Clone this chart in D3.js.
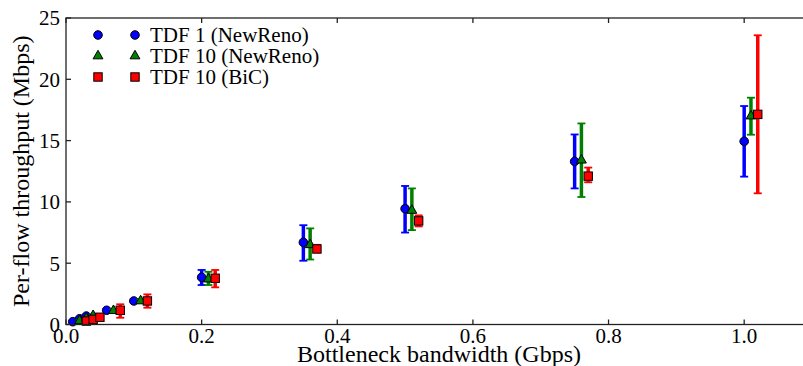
<!DOCTYPE html>
<html lang="en">
<head>
<meta charset="UTF-8" />
<title>Per-flow throughput vs bottleneck bandwidth</title>
<script src="https://d3js.org/d3.v7.min.js"></script>
<style>
body { margin: 0; padding: 0; background: #fff; }
svg { display: block; }
svg text { font-family: "Liberation Serif", "Times New Roman", Times, "Nimbus Roman", "DejaVu Serif", "Noto Serif", FreeSerif, serif; fill: #000; }
.tick-label { font-size: 21px; }
.axis-title { font-size: 24px; }
.legend-text { font-size: 21px; }
</style>
</head>
<body>
<svg width="803" height="366"></svg>
<script>
// bottleneck bandwidth (Gbps) for TDF 1; the other series are shifted by 0.01
const bandwidth = [0.01, 0.02, 0.03, 0.06, 0.1, 0.2, 0.35, 0.5, 0.75, 1.0];

const tdf1Mean = [0.23, 0.47, 0.69, 1.16, 1.92, 3.85, 6.7, 9.45, 13.3, 14.94];
const tdf1Low  = [0.15, 0.4, 0.6, 1.05, 1.8, 3.22, 5.2, 7.5, 11.1, 12.06];
const tdf1High = [0.3, 0.55, 0.78, 1.27, 2.05, 4.45, 8.1, 11.3, 15.5, 17.82];

const tdf10Mean = [0.3, 0.5, 0.72, 1.13, 1.92, 3.7, 6.5, 9.3, 13.4, 17.0];
const tdf10Low  = [0.22, 0.42, 0.62, 1.0, 1.8, 3.22, 5.3, 7.7, 10.4, 15.48];
const tdf10High = [0.38, 0.58, 0.82, 1.25, 2.05, 4.3, 7.84, 11.1, 16.4, 18.5];

const bicMean = [0.28, 0.42, 0.59, 1.16, 1.92, 3.77, 6.16, 8.45, 12.1, 17.14];
const bicLow  = [0.2, 0.32, 0.48, 0.55, 1.37, 3.03, 5.9, 8.0, 11.6, 10.7];
const bicHigh = [0.36, 0.52, 0.7, 1.65, 2.46, 4.45, 6.5, 8.9, 12.8, 23.59];

const seriesNames = ["TDF 1 (NewReno)", "TDF 10 (NewReno)", "TDF 10 (BiC)"];
const xTicks = [0.0, 0.2, 0.4, 0.6, 0.8, 1.0];
const yTicks = [0, 5, 10, 15, 20, 25];

const series = [
  { name: seriesNames[0], offset: 0.0, mean: tdf1Mean, lo: tdf1Low, hi: tdf1High, color: "#0000ff", shape: "circle" },
  { name: seriesNames[1], offset: 0.01, mean: tdf10Mean, lo: tdf10Low, hi: tdf10High, color: "#008000", shape: "triangle" },
  { name: seriesNames[2], offset: 0.02, mean: bicMean, lo: bicLow, hi: bicHigh, color: "#ff0000", shape: "square" },
];

const svg = d3.select("svg");
const plotLeft = 66, plotRight = 812, plotTop = 18, plotBottom = 324.5;

const x = d3.scaleLinear().domain([0, 1.1]).range([plotLeft, plotRight]);
const y = d3.scaleLinear().domain([0, 25]).range([plotBottom, plotTop]);

function marker(sel, shape) {
  if (shape === "circle") {
    return sel.append("circle").attr("r", 4.3);
  } else if (shape === "triangle") {
    return sel.append("path").attr("d", d3.symbol().type(d3.symbolTriangle).size(42)());
  }
  return sel.append("rect").attr("x", -4.2).attr("y", -4.2).attr("width", 8.4).attr("height", 8.4);
}

// error bars + markers, series by series
series.forEach(s => {
  const rows = bandwidth.map((b, i) => ({ bx: b + s.offset, m: s.mean[i], lo: s.lo[i], hi: s.hi[i] }));
  const g = svg.append("g");
  g.selectAll(".bar").data(rows).enter().append("line")
    .attr("x1", d => x(d.bx)).attr("x2", d => x(d.bx))
    .attr("y1", d => y(d.lo)).attr("y2", d => y(d.hi))
    .attr("stroke", s.color).attr("stroke-width", 3.5);
  ["lo", "hi"].forEach(k => {
    g.selectAll(".cap-" + k).data(rows).enter().append("line")
      .attr("x1", d => x(d.bx) - 4).attr("x2", d => x(d.bx) + 4)
      .attr("y1", d => y(d[k])).attr("y2", d => y(d[k]))
      .attr("stroke", s.color).attr("stroke-width", 1.8);
  });
  rows.forEach(d => {
    const mg = g.append("g").attr("transform", `translate(${x(d.bx)},${y(d.m)})`);
    marker(mg, s.shape).attr("fill", s.color).attr("stroke", "#000").attr("stroke-width", 1);
  });
});

// frame
const frame = svg.append("g").attr("stroke", "#222").attr("stroke-width", 1.3).attr("fill", "none");
frame.append("rect").attr("x", plotLeft).attr("y", plotTop)
  .attr("width", plotRight - plotLeft).attr("height", plotBottom - plotTop);

// ticks (inward, matplotlib style)
xTicks.forEach(t => {
  frame.append("line").attr("x1", x(t)).attr("x2", x(t)).attr("y1", plotBottom).attr("y2", plotBottom - 5);
  frame.append("line").attr("x1", x(t)).attr("x2", x(t)).attr("y1", plotTop).attr("y2", plotTop + 5);
  svg.append("text").attr("class", "tick-label").attr("x", x(t)).attr("y", 343)
    .attr("text-anchor", "middle").text(d3.format(".1f")(t));
});
yTicks.forEach(t => {
  frame.append("line").attr("x1", plotLeft).attr("x2", plotLeft + 5).attr("y1", y(t)).attr("y2", y(t));
  svg.append("text").attr("class", "tick-label").attr("x", 60).attr("y", y(t))
    .attr("dy", "0.35em").attr("text-anchor", "end").text(t);
});

// axis titles
svg.append("text").attr("class", "axis-title")
  .attr("x", (plotLeft + plotRight) / 2).attr("y", 362).attr("text-anchor", "middle")
  .text("Bottleneck bandwidth (Gbps)");
svg.append("text").attr("class", "axis-title")
  .attr("transform", `translate(29,${(plotTop + plotBottom) / 2}) rotate(-90)`)
  .attr("text-anchor", "middle")
  .text("Per-flow throughput (Mbps)");

// legend (two markers per entry)
const legendRows = [35, 56, 77];
series.forEach((s, i) => {
  [98, 135].forEach(mx => {
    const mg = svg.append("g").attr("transform", `translate(${mx},${legendRows[i]})`);
    marker(mg, s.shape).attr("fill", s.color).attr("stroke", "#000").attr("stroke-width", 1);
  });
  svg.append("text").attr("class", "legend-text").attr("x", 150).attr("y", legendRows[i] + 7)
    .text(s.name);
});
</script>
</body>
</html>
